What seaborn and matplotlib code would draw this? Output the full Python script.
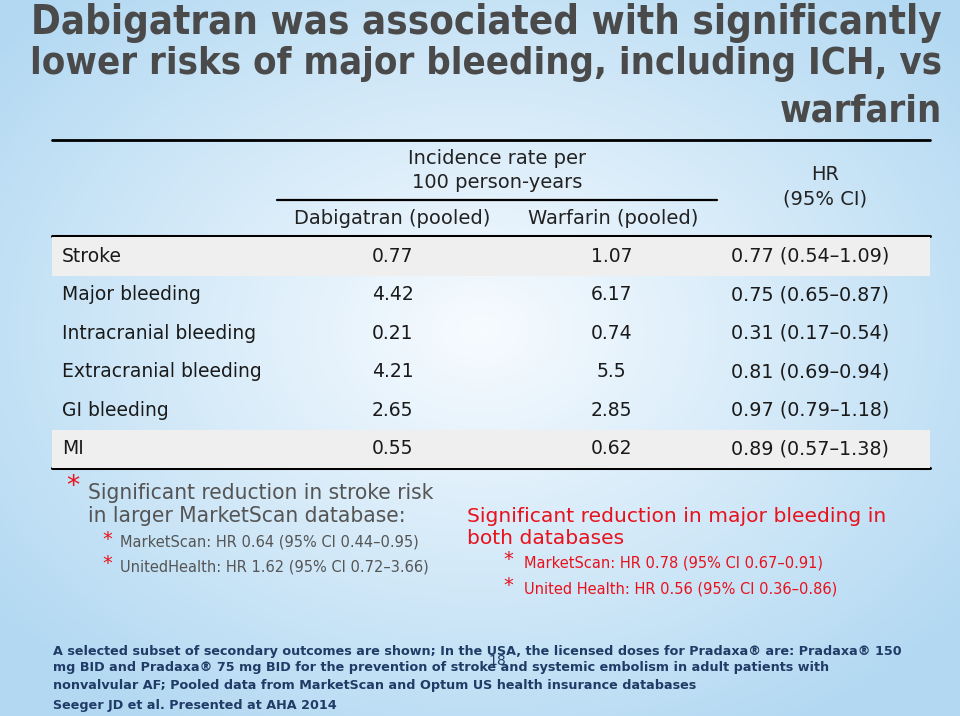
import numpy as np
import pandas as pd
import matplotlib
matplotlib.use("Agg")
import matplotlib.pyplot as plt
import seaborn as sns

# table data
outcomes = ["Stroke", "Major bleeding", "Intracranial bleeding",
            "Extracranial bleeding", "GI bleeding", "MI"]
dabigatran = ["0.77", "4.42", "0.21", "4.21", "2.65", "0.55"]
warfarin = ["1.07", "6.17", "0.74", "5.5", "2.85", "0.62"]
hr_ci = ["0.77 (0.54\u20131.09)", "0.75 (0.65\u20130.87)", "0.31 (0.17\u20130.54)",
         "0.81 (0.69\u20130.94)", "0.97 (0.79\u20131.18)", "0.89 (0.57\u20131.38)"]
shaded = ["Stroke", "MI"]

title_lines = ["Dabigatran was associated with significantly",
               "lower risks of major bleeding, including ICH, vs",
               "warfarin"]

stroke_notes = ["MarketScan: HR 0.64 (95% CI 0.44\u20130.95)",
                "UnitedHealth: HR 1.62 (95% CI 0.72\u20133.66)"]
bleed_notes = ["MarketScan: HR 0.78 (95% CI 0.67\u20130.91)",
               "United Health: HR 0.56 (95% CI 0.36\u20130.86)"]
footnote = ["A selected subset of secondary outcomes are shown; In the USA, the licensed doses for Pradaxa\u00ae are: Pradaxa\u00ae 150",
            "mg BID and Pradaxa\u00ae 75 mg BID for the prevention of stroke and systemic embolism in adult patients with",
            "nonvalvular AF; Pooled data from MarketScan and Optum US health insurance databases",
            "Seeger JD et al. Presented at AHA 2014"]

sns.set_theme(style="white")
plt.rcParams['font.family'] = ['DejaVu Sans']

fig = plt.figure(figsize=(9.6, 7.16), dpi=100)

# background gradient in pixel coords
bg = fig.add_axes([0, 0, 1, 1])
yy, xx = np.mgrid[0:716, 0:960]
d = np.sqrt(((xx - 480) / 620.0) ** 2 + ((yy - 330) / 460.0) ** 2)
d = np.clip(d, 0, 1)
c0 = np.array([0.97, 0.985, 1.0])
c1 = np.array([0.70, 0.85, 0.95])
img = c0[None, None, :] * (1 - d[..., None]) + c1[None, None, :] * d[..., None]
bg.imshow(img, extent=(0, 960, 716, 0), aspect="auto")
bg.set_xlim(0, 960)
bg.set_ylim(716, 0)
bg.axis("off")

# title
title_y = [23, 64, 112]
title_size = [28.8, 27.4, 27.4]
for line, y, fs in zip(title_lines, title_y, title_size):
    bg.text(942, y, line, ha="right", va="center", fontsize=fs,
            fontweight="bold", color="#4a4a4a", fontstretch="condensed")

# table header
hdr = dict(ha="center", va="center", fontsize=14, color="#222")
bg.plot([52, 930], [140, 140], color="black", lw=2)
bg.text(497, 158, "Incidence rate per", **hdr)
bg.text(497, 183, "100 person-years", **hdr)
bg.plot([277, 717], [200, 200], color="black", lw=1.6)
bg.text(392, 218, "Dabigatran (pooled)", **hdr)
bg.text(613, 218, "Warfarin (pooled)", **hdr)
bg.text(825, 175, "HR", **hdr)
bg.text(825, 199, "(95% CI)", **hdr)
bg.plot([52, 930], [236, 236], color="black", lw=2.2)
bg.plot([52, 930], [468, 468], color="black", lw=2.2)

# table body, rows on seaborn categorical axis
ax = fig.add_axes([52 / 960, 1 - 468 / 716, 878 / 960, 231 / 716])
df = pd.DataFrame({"outcome": outcomes,
                   "shade": [1.0 if o in shaded else 0.0 for o in outcomes]})
sns.barplot(data=df, y="outcome", x="shade", color="#efefef", width=1.0,
            saturation=1, linewidth=0, ax=ax)
ax.set_xlim(0, 1)
ax.set_ylim(len(outcomes) - 0.5, -0.5)
ax.axis("off")
for i, o in enumerate(outcomes):
    ax.text(0.0114, i, o, ha="left", va="center", fontsize=13.5, color="#1a1a1a")
    ax.text(0.364, i, dabigatran[i], ha="left", va="center", fontsize=13.5, color="#1a1a1a")
    ax.text(0.637, i, warfarin[i], ha="center", va="center", fontsize=13.5, color="#1a1a1a")
    ax.text(0.773, i, hr_ci[i], ha="left", va="center", fontsize=13.8, color="#1a1a1a")

# left notes
gray = "#555555"
red = "#e8121c"
bg.text(66, 487, "*", ha="left", va="center", fontsize=19, color=red)
bg.text(88, 493, "Significant reduction in stroke risk", ha="left", va="center",
        fontsize=16.2, color=gray, fontstretch="condensed")
bg.text(88, 516, "in larger MarketScan database:", ha="left", va="center",
        fontsize=16.2, color=gray, fontstretch="condensed")
for k, t in enumerate(stroke_notes):
    y = 542 + 25 * k
    bg.text(102, y - 3, "*", ha="left", va="center", fontsize=14, color=red)
    bg.text(120, y, t, ha="left", va="center", fontsize=10.5, color=gray)

# right notes
bg.text(467, 516, "Significant reduction in major bleeding in", ha="left",
        va="center", fontsize=14.6, color=red)
bg.text(467, 538, "both databases", ha="left", va="center", fontsize=14.6, color=red)
for k, t in enumerate(bleed_notes):
    y = 563 + 26 * k
    bg.text(503, y - 3, "*", ha="left", va="center", fontsize=14, color=red)
    bg.text(524, y, t, ha="left", va="center", fontsize=10.5, color=red)

# footnote
navy = "#1f3b66"
for line, y in zip(footnote, [651, 668, 686, 706]):
    bg.text(53, y, line, ha="left", va="center", fontsize=9.2,
            fontweight="bold", color=navy)
bg.text(497, 661, "18", ha="center", va="center", fontsize=10, color=navy)

fig.savefig("out.png", dpi=100)
